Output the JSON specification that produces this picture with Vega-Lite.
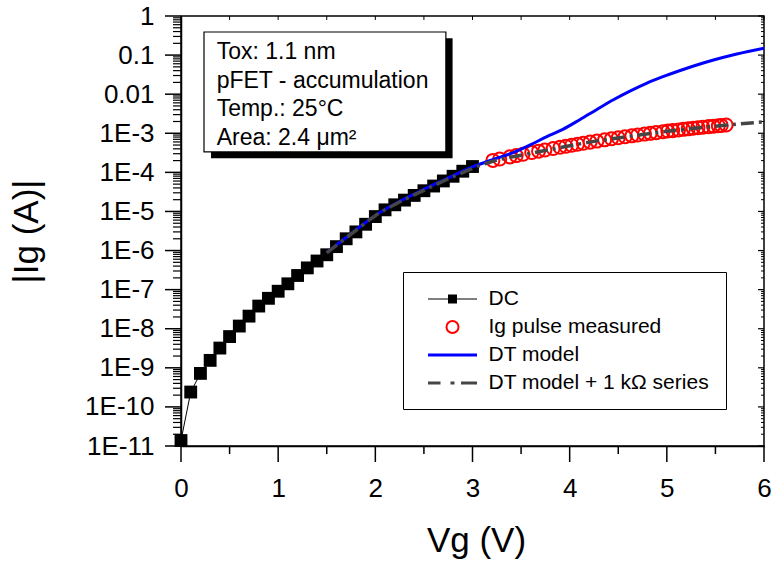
{
  "$schema": "https://vega.github.io/schema/vega-lite/v6.json",
  "width": 583,
  "height": 430,
  "autosize": {"type": "none"},
  "padding": {"left": 181, "top": 16, "right": 8, "bottom": 116},
  "background": "white",
  "config": {
    "view": {"stroke": "black", "strokeWidth": 1.5},
    "font": "Liberation Sans",
    "axis": {"grid": false, "domainColor": "black", "labelColor": "black", "titleColor": "black", "labelFont": "Liberation Sans", "titleFont": "Liberation Sans", "titleFontWeight": "normal"}
  },
  "datasets": {
    "xt": [
      {"v": 0, "k": "major"}, {"v": 0.5, "k": "minor"}, {"v": 1, "k": "major"}, {"v": 1.5, "k": "minor"},
      {"v": 2, "k": "major"}, {"v": 2.5, "k": "minor"}, {"v": 3, "k": "major"}, {"v": 3.5, "k": "minor"},
      {"v": 4, "k": "major"}, {"v": 4.5, "k": "minor"}, {"v": 5, "k": "major"}, {"v": 5.5, "k": "minor"},
      {"v": 6, "k": "major"}
    ],
    "yt": [
      {"v": 1e-11, "k": "major"}, {"v": 1e-10, "k": "major"}, {"v": 1e-9, "k": "major"}, {"v": 1e-8, "k": "major"},
      {"v": 1e-7, "k": "major"}, {"v": 1e-6, "k": "major"}, {"v": 1e-5, "k": "major"}, {"v": 1e-4, "k": "major"},
      {"v": 1e-3, "k": "major"}, {"v": 0.01, "k": "major"}, {"v": 0.1, "k": "major"}, {"v": 1, "k": "major"},
      {"v": 2e-11, "k": "minor"}, {"v": 3e-11, "k": "minor"}, {"v": 4e-11, "k": "minor"}, {"v": 5e-11, "k": "minor"}, {"v": 6e-11, "k": "minor"}, {"v": 7e-11, "k": "minor"}, {"v": 8e-11, "k": "minor"}, {"v": 9e-11, "k": "minor"},
      {"v": 2e-10, "k": "minor"}, {"v": 3e-10, "k": "minor"}, {"v": 4e-10, "k": "minor"}, {"v": 5e-10, "k": "minor"}, {"v": 6e-10, "k": "minor"}, {"v": 7e-10, "k": "minor"}, {"v": 8e-10, "k": "minor"}, {"v": 9e-10, "k": "minor"},
      {"v": 2e-9, "k": "minor"}, {"v": 3e-9, "k": "minor"}, {"v": 4e-9, "k": "minor"}, {"v": 5e-9, "k": "minor"}, {"v": 6e-9, "k": "minor"}, {"v": 7e-9, "k": "minor"}, {"v": 8e-9, "k": "minor"}, {"v": 9e-9, "k": "minor"},
      {"v": 2e-8, "k": "minor"}, {"v": 3e-8, "k": "minor"}, {"v": 4e-8, "k": "minor"}, {"v": 5e-8, "k": "minor"}, {"v": 6e-8, "k": "minor"}, {"v": 7e-8, "k": "minor"}, {"v": 8e-8, "k": "minor"}, {"v": 9e-8, "k": "minor"},
      {"v": 2e-7, "k": "minor"}, {"v": 3e-7, "k": "minor"}, {"v": 4e-7, "k": "minor"}, {"v": 5e-7, "k": "minor"}, {"v": 6e-7, "k": "minor"}, {"v": 7e-7, "k": "minor"}, {"v": 8e-7, "k": "minor"}, {"v": 9e-7, "k": "minor"},
      {"v": 2e-6, "k": "minor"}, {"v": 3e-6, "k": "minor"}, {"v": 4e-6, "k": "minor"}, {"v": 5e-6, "k": "minor"}, {"v": 6e-6, "k": "minor"}, {"v": 7e-6, "k": "minor"}, {"v": 8e-6, "k": "minor"}, {"v": 9e-6, "k": "minor"},
      {"v": 2e-5, "k": "minor"}, {"v": 3e-5, "k": "minor"}, {"v": 4e-5, "k": "minor"}, {"v": 5e-5, "k": "minor"}, {"v": 6e-5, "k": "minor"}, {"v": 7e-5, "k": "minor"}, {"v": 8e-5, "k": "minor"}, {"v": 9e-5, "k": "minor"},
      {"v": 2e-4, "k": "minor"}, {"v": 3e-4, "k": "minor"}, {"v": 4e-4, "k": "minor"}, {"v": 5e-4, "k": "minor"}, {"v": 6e-4, "k": "minor"}, {"v": 7e-4, "k": "minor"}, {"v": 8e-4, "k": "minor"}, {"v": 9e-4, "k": "minor"},
      {"v": 2e-3, "k": "minor"}, {"v": 3e-3, "k": "minor"}, {"v": 4e-3, "k": "minor"}, {"v": 5e-3, "k": "minor"}, {"v": 6e-3, "k": "minor"}, {"v": 7e-3, "k": "minor"}, {"v": 8e-3, "k": "minor"}, {"v": 9e-3, "k": "minor"},
      {"v": 0.02, "k": "minor"}, {"v": 0.03, "k": "minor"}, {"v": 0.04, "k": "minor"}, {"v": 0.05, "k": "minor"}, {"v": 0.06, "k": "minor"}, {"v": 0.07, "k": "minor"}, {"v": 0.08, "k": "minor"}, {"v": 0.09, "k": "minor"},
      {"v": 0.2, "k": "minor"}, {"v": 0.3, "k": "minor"}, {"v": 0.4, "k": "minor"}, {"v": 0.5, "k": "minor"}, {"v": 0.6, "k": "minor"}, {"v": 0.7, "k": "minor"}, {"v": 0.8, "k": "minor"}, {"v": 0.9, "k": "minor"}
    ],
    "dc": [
      {"s": "DC", "V": 0.0, "I": 1.38e-11},
      {"s": "DC", "V": 0.1, "I": 2.4e-10},
      {"s": "DC", "V": 0.2, "I": 7.2e-10},
      {"s": "DC", "V": 0.3, "I": 1.55e-9},
      {"s": "DC", "V": 0.4, "I": 3.2e-9},
      {"s": "DC", "V": 0.5, "I": 6.3e-9},
      {"s": "DC", "V": 0.6, "I": 1.17e-8},
      {"s": "DC", "V": 0.7, "I": 2.1e-8},
      {"s": "DC", "V": 0.8, "I": 3.8e-8},
      {"s": "DC", "V": 0.9, "I": 6.0e-8},
      {"s": "DC", "V": 1.0, "I": 9.1e-8},
      {"s": "DC", "V": 1.1, "I": 1.41e-7},
      {"s": "DC", "V": 1.2, "I": 2.3e-7},
      {"s": "DC", "V": 1.3, "I": 3.6e-7},
      {"s": "DC", "V": 1.4, "I": 5.4e-7},
      {"s": "DC", "V": 1.5, "I": 7.8e-7},
      {"s": "DC", "V": 1.6, "I": 1.26e-6},
      {"s": "DC", "V": 1.7, "I": 2.0e-6},
      {"s": "DC", "V": 1.8, "I": 3.0e-6},
      {"s": "DC", "V": 1.9, "I": 4.7e-6},
      {"s": "DC", "V": 2.0, "I": 7.4e-6},
      {"s": "DC", "V": 2.1, "I": 1.1e-5},
      {"s": "DC", "V": 2.2, "I": 1.48e-5},
      {"s": "DC", "V": 2.3, "I": 1.95e-5},
      {"s": "DC", "V": 2.4, "I": 2.57e-5},
      {"s": "DC", "V": 2.5, "I": 3.39e-5},
      {"s": "DC", "V": 2.6, "I": 4.47e-5},
      {"s": "DC", "V": 2.7, "I": 6.03e-5},
      {"s": "DC", "V": 2.8, "I": 7.94e-5},
      {"s": "DC", "V": 2.9, "I": 1.07e-4},
      {"s": "DC", "V": 3.0, "I": 1.41e-4}
    ],
    "pulse": [
      {"s": "Ig pulse measured", "V": 3.21, "I": 2.02e-4},
      {"s": "Ig pulse measured", "V": 3.28, "I": 2.20e-4},
      {"s": "Ig pulse measured", "V": 3.385, "I": 2.49e-4},
      {"s": "Ig pulse measured", "V": 3.45, "I": 2.69e-4},
      {"s": "Ig pulse measured", "V": 3.52, "I": 2.91e-4},
      {"s": "Ig pulse measured", "V": 3.61, "I": 3.22e-4},
      {"s": "Ig pulse measured", "V": 3.68, "I": 3.48e-4},
      {"s": "Ig pulse measured", "V": 3.745, "I": 3.73e-4},
      {"s": "Ig pulse measured", "V": 3.83, "I": 4.08e-4},
      {"s": "Ig pulse measured", "V": 3.90, "I": 4.38e-4},
      {"s": "Ig pulse measured", "V": 3.96, "I": 4.66e-4},
      {"s": "Ig pulse measured", "V": 4.02, "I": 4.94e-4},
      {"s": "Ig pulse measured", "V": 4.08, "I": 5.24e-4},
      {"s": "Ig pulse measured", "V": 4.14, "I": 5.55e-4},
      {"s": "Ig pulse measured", "V": 4.21, "I": 5.93e-4},
      {"s": "Ig pulse measured", "V": 4.28, "I": 6.32e-4},
      {"s": "Ig pulse measured", "V": 4.36, "I": 6.79e-4},
      {"s": "Ig pulse measured", "V": 4.43, "I": 7.22e-4},
      {"s": "Ig pulse measured", "V": 4.50, "I": 7.67e-4},
      {"s": "Ig pulse measured", "V": 4.57, "I": 8.13e-4},
      {"s": "Ig pulse measured", "V": 4.64, "I": 8.61e-4},
      {"s": "Ig pulse measured", "V": 4.70, "I": 9.02e-4},
      {"s": "Ig pulse measured", "V": 4.77, "I": 9.53e-4},
      {"s": "Ig pulse measured", "V": 4.83, "I": 9.97e-4},
      {"s": "Ig pulse measured", "V": 4.89, "I": 1.04e-3},
      {"s": "Ig pulse measured", "V": 4.96, "I": 1.10e-3},
      {"s": "Ig pulse measured", "V": 5.01, "I": 1.14e-3},
      {"s": "Ig pulse measured", "V": 5.06, "I": 1.17e-3},
      {"s": "Ig pulse measured", "V": 5.12, "I": 1.22e-3},
      {"s": "Ig pulse measured", "V": 5.17, "I": 1.26e-3},
      {"s": "Ig pulse measured", "V": 5.22, "I": 1.30e-3},
      {"s": "Ig pulse measured", "V": 5.27, "I": 1.35e-3},
      {"s": "Ig pulse measured", "V": 5.32, "I": 1.39e-3},
      {"s": "Ig pulse measured", "V": 5.37, "I": 1.43e-3},
      {"s": "Ig pulse measured", "V": 5.43, "I": 1.48e-3},
      {"s": "Ig pulse measured", "V": 5.48, "I": 1.52e-3},
      {"s": "Ig pulse measured", "V": 5.53, "I": 1.56e-3},
      {"s": "Ig pulse measured", "V": 5.56, "I": 1.59e-3},
      {"s": "Ig pulse measured", "V": 5.61, "I": 1.63e-3}
    ],
    "dt": [
      {"s": "DT model", "V": 1.5, "I": 8.9e-7},
      {"s": "DT model", "V": 1.75, "I": 2.7e-6},
      {"s": "DT model", "V": 2.0, "I": 7.9e-6},
      {"s": "DT model", "V": 2.25, "I": 1.82e-5},
      {"s": "DT model", "V": 2.5, "I": 3.7e-5},
      {"s": "DT model", "V": 2.75, "I": 7.2e-5},
      {"s": "DT model", "V": 3.0, "I": 1.38e-4},
      {"s": "DT model", "V": 3.2, "I": 2.09e-4},
      {"s": "DT model", "V": 3.42, "I": 3.2e-4},
      {"s": "DT model", "V": 3.6, "I": 5.1e-4},
      {"s": "DT model", "V": 3.76, "I": 8.1e-4},
      {"s": "DT model", "V": 3.93, "I": 1.26e-3},
      {"s": "DT model", "V": 4.1, "I": 2.19e-3},
      {"s": "DT model", "V": 4.28, "I": 4.07e-3},
      {"s": "DT model", "V": 4.45, "I": 7.2e-3},
      {"s": "DT model", "V": 4.62, "I": 1.2e-2},
      {"s": "DT model", "V": 4.79, "I": 1.9e-2},
      {"s": "DT model", "V": 4.96, "I": 2.8e-2},
      {"s": "DT model", "V": 5.13, "I": 3.98e-2},
      {"s": "DT model", "V": 5.3, "I": 5.5e-2},
      {"s": "DT model", "V": 5.48, "I": 7.5e-2},
      {"s": "DT model", "V": 5.72, "I": 0.107},
      {"s": "DT model", "V": 6.0, "I": 0.151}
    ],
    "dtr": [
      {"s": "DT model + 1 kΩ series", "V": 1.5, "I": 8.7e-7},
      {"s": "DT model + 1 kΩ series", "V": 1.75, "I": 2.63e-6},
      {"s": "DT model + 1 kΩ series", "V": 2.0, "I": 7.8e-6},
      {"s": "DT model + 1 kΩ series", "V": 2.25, "I": 1.74e-5},
      {"s": "DT model + 1 kΩ series", "V": 2.5, "I": 3.47e-5},
      {"s": "DT model + 1 kΩ series", "V": 2.75, "I": 6.8e-5},
      {"s": "DT model + 1 kΩ series", "V": 3.0, "I": 1.26e-4},
      {"s": "DT model + 1 kΩ series", "V": 3.2, "I": 1.9e-4},
      {"s": "DT model + 1 kΩ series", "V": 3.5, "I": 2.75e-4},
      {"s": "DT model + 1 kΩ series", "V": 3.75, "I": 3.63e-4},
      {"s": "DT model + 1 kΩ series", "V": 4.0, "I": 4.8e-4},
      {"s": "DT model + 1 kΩ series", "V": 4.25, "I": 6.2e-4},
      {"s": "DT model + 1 kΩ series", "V": 4.5, "I": 7.6e-4},
      {"s": "DT model + 1 kΩ series", "V": 4.75, "I": 9.3e-4},
      {"s": "DT model + 1 kΩ series", "V": 5.0, "I": 1.12e-3},
      {"s": "DT model + 1 kΩ series", "V": 5.25, "I": 1.32e-3},
      {"s": "DT model + 1 kΩ series", "V": 5.5, "I": 1.51e-3},
      {"s": "DT model + 1 kΩ series", "V": 5.75, "I": 1.74e-3},
      {"s": "DT model + 1 kΩ series", "V": 6.0, "I": 1.95e-3}
    ]
  },
  "resolve": {"axis": {"x": "independent", "y": "independent"}},
  "layer": [
    {
      "data": {"name": "dc"},
      "mark": {"type": "line", "strokeWidth": 1, "color": "black", "clip": true},
      "encoding": {
        "x": {"field": "V", "type": "quantitative", "scale": {"domain": [0, 6], "nice": false, "zero": false},
          "axis": {"orient": "bottom", "values": [0, 1, 2, 3, 4, 5, 6], "ticks": true, "tickColor": "transparent", "tickSize": 16, "domainWidth": 1.5, "labelFontSize": 26, "labelPadding": 13, "labelFlush": false, "labelOverlap": false, "labelBound": false,
            "title": "Vg (V)", "titleFontSize": 35, "titleX": 295, "titleY": 105, "titleBaseline": "alphabetic", "titleAlign": "center"}},
        "y": {"field": "I", "type": "quantitative", "scale": {"type": "log", "domain": [1e-11, 1], "nice": false},
          "axis": {"orient": "left", "values": [1e-11, 1e-10, 1e-9, 1e-8, 1e-7, 1e-6, 1e-5, 1e-4, 1e-3, 0.01, 0.1, 1], "ticks": true, "tickColor": "transparent", "tickSize": 16, "domainWidth": 1.5, "labelFontSize": 26, "labelPadding": 11, "labelOverlap": false, "labelFlush": false, "labelBound": false,
            "labelExpr": "datum.value > 0.005 ? '' + datum.value : '1E-' + round(-log(datum.value) / LN10)",
            "title": "|Ig (A)|", "titleFontSize": 35, "titleAngle": 270, "titleX": -155, "titleY": 215, "titleBaseline": "middle", "titleAlign": "center"}}
      }
    },
    {
      "data": {"name": "xt"},
      "transform": [{"filter": "datum.k === 'major'"}],
      "mark": {"type": "rule", "color": "black", "strokeWidth": 1.5, "clip": false},
      "encoding": {
        "x": {"field": "v", "type": "quantitative", "axis": null},
        "y": {"datum": 1e-11, "type": "quantitative", "axis": null},
        "y2": {"datum": 3.9e-12}
      }
    },
    {
      "data": {"name": "xt"},
      "transform": [{"filter": "datum.k === 'minor'"}],
      "mark": {"type": "rule", "color": "black", "strokeWidth": 1.5, "clip": false},
      "encoding": {
        "x": {"field": "v", "type": "quantitative", "axis": null},
        "y": {"datum": 1e-11, "type": "quantitative", "axis": null},
        "y2": {"datum": 6.24e-12}
      }
    },
    {
      "data": {"name": "xt"},
      "mark": {"type": "rule", "color": "black", "strokeWidth": 1, "clip": false},
      "encoding": {
        "x": {"field": "v", "type": "quantitative", "axis": null},
        "y": {"datum": 1, "type": "quantitative", "axis": null},
        "y2": {"datum": 0.79}
      }
    },
    {
      "data": {"name": "yt"},
      "transform": [{"filter": "datum.k === 'major'"}],
      "mark": {"type": "rule", "color": "black", "strokeWidth": 1.5, "clip": false},
      "encoding": {
        "y": {"field": "v", "type": "quantitative", "axis": null},
        "x": {"datum": 0, "type": "quantitative", "axis": null},
        "x2": {"datum": -0.1647}
      }
    },
    {
      "data": {"name": "yt"},
      "transform": [{"filter": "datum.k === 'minor'"}],
      "mark": {"type": "rule", "color": "black", "strokeWidth": 1.2, "clip": false},
      "encoding": {
        "y": {"field": "v", "type": "quantitative", "axis": null},
        "x": {"datum": 0, "type": "quantitative", "axis": null},
        "x2": {"datum": -0.0823}
      }
    },
    {
      "data": {"name": "yt"},
      "transform": [{"filter": "datum.k === 'major'"}],
      "mark": {"type": "rule", "color": "black", "strokeWidth": 1.2, "clip": false},
      "encoding": {
        "y": {"field": "v", "type": "quantitative", "axis": null},
        "x": {"datum": 6, "type": "quantitative", "axis": null},
        "x2": {"datum": 5.938}
      }
    },
    {
      "data": {"name": "yt"},
      "transform": [{"filter": "datum.k === 'minor'"}],
      "mark": {"type": "rule", "color": "black", "strokeWidth": 1, "clip": false},
      "encoding": {
        "y": {"field": "v", "type": "quantitative", "axis": null},
        "x": {"datum": 6, "type": "quantitative", "axis": null},
        "x2": {"datum": 5.969}
      }
    },
    {
      "data": {"name": "dc"},
      "mark": {"type": "point", "shape": "square", "filled": true, "size": 165, "opacity": 1, "color": "black"},
      "encoding": {
        "x": {"field": "V", "type": "quantitative", "axis": null},
        "y": {"field": "I", "type": "quantitative", "axis": null}
      }
    },
    {
      "data": {"name": "pulse"},
      "mark": {"type": "point", "shape": "circle", "filled": false, "size": 170, "strokeWidth": 2, "opacity": 1, "color": "#ff0000"},
      "encoding": {
        "x": {"field": "V", "type": "quantitative", "axis": null},
        "y": {"field": "I", "type": "quantitative", "axis": null}
      }
    },
    {
      "data": {"name": "dt"},
      "mark": {"type": "line", "strokeWidth": 3, "interpolate": "monotone", "color": "#0000ff"},
      "encoding": {
        "x": {"field": "V", "type": "quantitative", "axis": null},
        "y": {"field": "I", "type": "quantitative", "axis": null}
      }
    },
    {
      "data": {"name": "dtr"},
      "mark": {"type": "line", "strokeWidth": 3.5, "strokeDash": [13, 5, 3, 5], "interpolate": "monotone", "color": "#454545"},
      "encoding": {
        "x": {"field": "V", "type": "quantitative", "axis": null},
        "y": {"field": "I", "type": "quantitative", "axis": null}
      }
    },
    {
      "data": {"name": "dc"},
      "transform": [{"filter": "datum.V < 0"}],
      "mark": {"type": "point", "opacity": 1},
      "encoding": {
        "x": {"field": "V", "type": "quantitative", "axis": null},
        "y": {"field": "I", "type": "quantitative", "axis": null},
        "fill": {"field": "s", "type": "nominal",
          "scale": {"domain": ["DC", "Ig pulse measured", "DT model", "DT model + 1 kΩ series"], "range": ["black", "transparent", "#0000ff", "#454545"]},
          "legend": {"orient": "none", "legendX": 222, "legendY": 256, "title": null, "padding": 16, "rowPadding": 7, "labelFontSize": 21, "labelFont": "Liberation Sans", "labelColor": "black", "labelLimit": 400,
            "symbolSize": 400, "symbolStrokeWidth": 2, "symbolOffset": 22.5, "labelOffset": 25, "strokeColor": "black", "fillColor": "white", "symbolOpacity": 1}},
        "stroke": {"field": "s", "type": "nominal",
          "scale": {"domain": ["DC", "Ig pulse measured", "DT model", "DT model + 1 kΩ series"], "range": ["transparent", "#ff0000", "transparent", "transparent"]},
          "legend": {"orient": "none", "legendX": 222, "legendY": 256, "title": null, "padding": 16, "rowPadding": 7, "labelFontSize": 21, "labelFont": "Liberation Sans", "labelColor": "black", "labelLimit": 400,
            "symbolSize": 400, "symbolStrokeWidth": 2, "symbolOffset": 22.5, "labelOffset": 25, "strokeColor": "black", "fillColor": "white", "symbolOpacity": 1}},
        "shape": {"field": "s", "type": "nominal",
          "scale": {"domain": ["DC", "Ig pulse measured", "DT model", "DT model + 1 kΩ series"],
            "range": [
              "M-2.45,-0.05H-0.45V0.05H-2.45Z M0.45,-0.05H2.45V0.05H0.45Z M-0.45,-0.45H0.45V0.45H-0.45Z",
              "M0.6,0A0.6,0.6,0,1,1,-0.6,0A0.6,0.6,0,1,1,0.6,0Z",
              "M-2.45,-0.15H2.45V0.15H-2.45Z",
              "M-2.45,-0.15H-1.2V0.15H-2.45Z M-0.2,-0.15H0.2V0.15H-0.2Z M0.85,-0.15H2.45V0.15H0.85Z"
            ]},
          "legend": {"orient": "none", "legendX": 222, "legendY": 256, "title": null, "padding": 16, "rowPadding": 7, "labelFontSize": 21, "labelFont": "Liberation Sans", "labelColor": "black", "labelLimit": 400,
            "symbolSize": 400, "symbolStrokeWidth": 2, "symbolOffset": 22.5, "labelOffset": 25, "strokeColor": "black", "fillColor": "white", "symbolOpacity": 1}}
      }
    },
    {
      "data": {"values": [{}]},
      "mark": {"type": "rect", "color": "black"},
      "encoding": {
        "x": {"datum": 0.309, "type": "quantitative", "axis": null},
        "x2": {"datum": 2.795},
        "y": {"datum": 0.269, "type": "quantitative", "axis": null},
        "y2": {"datum": 2.3e-4}
      }
    },
    {
      "data": {"values": [{}]},
      "mark": {"type": "rect", "fill": "white", "stroke": "black", "strokeWidth": 1.2},
      "encoding": {
        "x": {"datum": 0.2366, "type": "quantitative", "axis": null},
        "x2": {"datum": 2.726},
        "y": {"datum": 0.39, "type": "quantitative", "axis": null},
        "y2": {"datum": 3.33e-4}
      }
    },
    {
      "data": {"values": [{}]},
      "mark": {"type": "text", "text": ["Tox: 1.1 nm", "pFET - accumulation", "Temp.: 25°C", "Area: 2.4 μm²"], "align": "left", "baseline": "alphabetic", "fontSize": 23, "lineHeight": 28.5, "font": "Liberation Sans", "color": "black"},
      "encoding": {
        "x": {"datum": 0.367, "type": "quantitative", "axis": null},
        "y": {"datum": 0.0781, "type": "quantitative", "axis": null}
      }
    }
  ]
}
